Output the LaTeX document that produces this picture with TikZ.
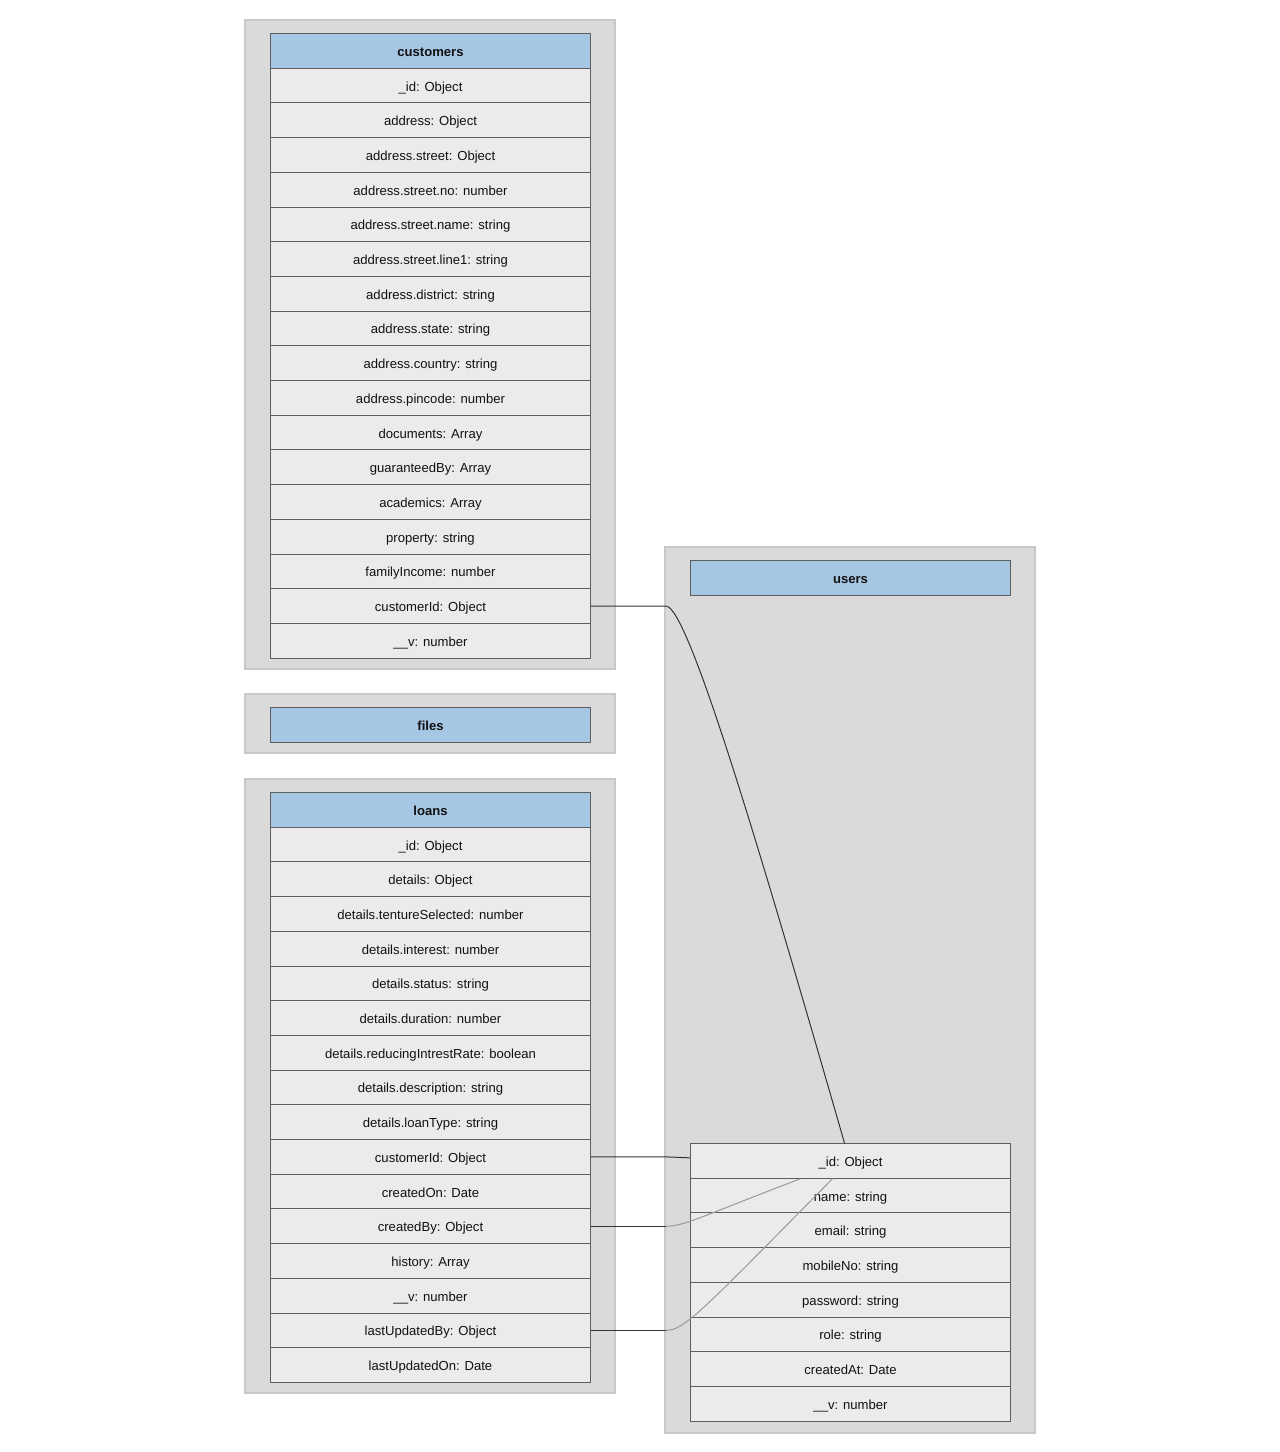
\documentclass[tikz,border=0pt]{standalone}
\usepackage{fontspec}
\setmainfont{Liberation Sans}
\usetikzlibrary{calc}

\definecolor{groupfill}{HTML}{DADADA}
\definecolor{groupline}{HTML}{C8C8C8}
\definecolor{rowfill}{HTML}{EBEBEB}
\definecolor{headfill}{HTML}{A6C7E3}
\definecolor{cellline}{HTML}{5E5E5E}
\definecolor{linkdark}{HTML}{333333}
\definecolor{linklight}{HTML}{9A9A9A}
\definecolor{celltext}{HTML}{111111}

\tikzset{
  grp/.style={draw=groupline, fill=groupfill, line width=1.5pt},
  cell/.style={draw=cellline, fill=rowfill, line width=1pt,
    minimum width=320pt, minimum height=34.7pt, inner sep=0pt,
    text height=11pt, text depth=0pt,
    anchor=north west, text=celltext, font=\fontsize{13.1}{15}\selectfont},
  headcell/.style={cell, fill=headfill, font=\fontsize{13.1}{15}\selectfont\bfseries},
  link/.style={draw=linkdark, line width=1pt},
  linklt/.style={draw=linklight, line width=1pt},
}

% one column of field cells below a header: prefix, left x, top y of header, fields
\newcommand\fieldtable[4]{%
  \foreach \f [count=\i] in {#4} {
    \node[cell] (#1-\i) at (#2, {#3+34.7*\i}) {\f};
  }%
}

\begin{document}
\begin{tikzpicture}[x=1pt, y=-1pt]
\useasboundingbox (0,0) rectangle (1280,1452);

% collection groups
\draw[grp] (245,20) rectangle (615,669);
\draw[grp] (245,694) rectangle (615,753);
\draw[grp] (245,779) rectangle (615,1393);
\draw[grp] (665,547) rectangle (1035,1433);

% customers
\node[headcell] (cust-0) at (270,33) {customers};
\fieldtable{cust}{270}{33}{\_id: Object, address: Object, address.street: Object,
  address.street.no: number, address.street.name: string, address.street.line1: string,
  address.district: string, address.state: string, address.country: string,
  address.pincode: number, documents: Array, guaranteedBy: Array, academics: Array,
  property: string, familyIncome: number, customerId: Object, \_\_v: number}

% files
\node[headcell] (file-0) at (270,707) {files};

% loans
\node[headcell] (loan-0) at (270,792) {loans};
\fieldtable{loan}{270}{792}{\_id: Object, details: Object, details.tentureSelected: number,
  details.interest: number, details.status: string, details.duration: number,
  details.reducingIntrestRate: boolean, details.description: string,
  details.loanType: string, customerId: Object, createdOn: Date, createdBy: Object,
  history: Array, \_\_v: number, lastUpdatedBy: Object, lastUpdatedOn: Date}

% users
\node[headcell] (usr-0) at (690,560) {users};
\fieldtable{usr}{690}{1108.3}{\_id: Object, name: string, email: string, mobileNo: string,
  password: string, role: string, createdAt: Date, \_\_v: number}

% references
\coordinate (k1) at ([xshift=75pt]cust-16.east);
\draw[link] (cust-16.east) -- (k1)
  .. controls ([xshift=22pt]k1) and (760,850) .. ([xshift=-6pt]usr-1.north);

\draw[link] (loan-10.east) -- ([xshift=75pt]loan-10.east) -- ([yshift=3pt]usr-1.west);

\coordinate (k3) at ([xshift=75pt]loan-12.east);
\draw[link] (loan-12.east) -- (k3);
\draw[linklt] (k3) .. controls ([xshift=18pt]k3) and (700,1217) .. ([xshift=-50pt]usr-1.south);

\coordinate (k4) at ([xshift=75pt]loan-15.east);
\draw[link] (loan-15.east) -- (k4);
\draw[linklt] (k4) .. controls ([xshift=18pt]k4) and (700,1313) .. ([xshift=-18pt]usr-1.south);
\end{tikzpicture}
\end{document}
